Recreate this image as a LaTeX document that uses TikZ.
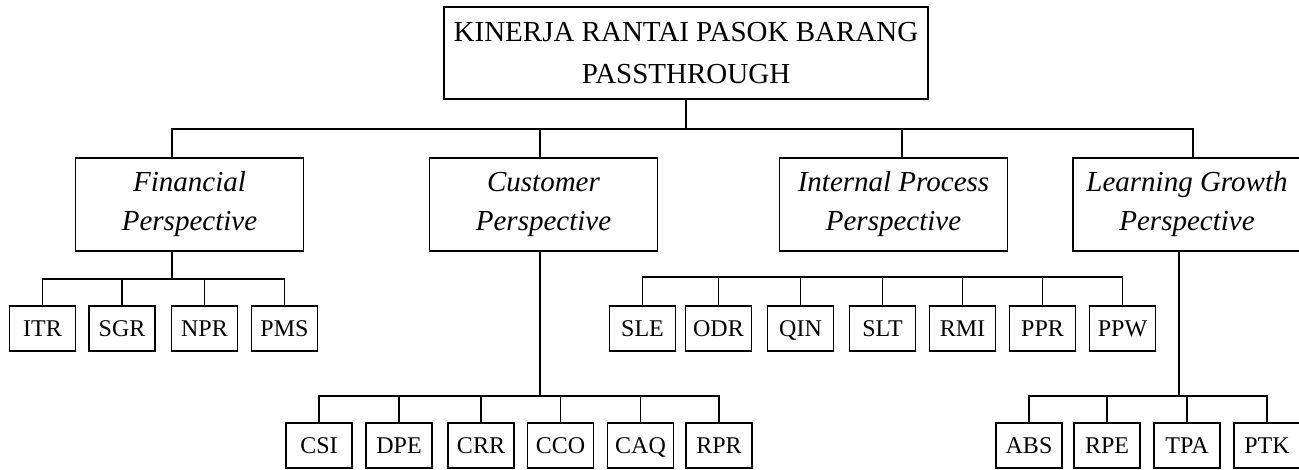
\documentclass[tikz,border=0pt]{standalone}
\usepackage{fontspec}
\setmainfont{Liberation Serif}
\usetikzlibrary{calc}
\begin{document}
\begin{tikzpicture}[x=1pt,y=-1pt, line width=1.9pt,
  box/.style={draw, inner sep=0pt, align=center},
  topbox/.style={box, minimum width=484pt, minimum height=92pt, font=\fontsize{29}{42}\selectfont},
  persp/.style={box, minimum width=228pt, minimum height=93pt, font=\fontsize{29}{39}\selectfont\itshape},
  leaf/.style={box, minimum width=66pt, minimum height=45pt, font=\fontsize{24}{27}\selectfont, text height=15.5pt, text depth=0pt}]
\useasboundingbox (0,0) rectangle (1299,470);

% root
\node[topbox] (top) at (686,53) {KINERJA RANTAI PASOK BARANG\\PASSTHROUGH};

% perspectives
\node[persp] (fin) at (189.5,204.5) {Financial\\Perspective};
\node[persp] (cus) at (543.5,204.5) {Customer\\Perspective};
\node[persp] (int) at (893.5,204.5) {Internal Process\\Perspective};
\node[persp] (lrn) at (1187,204.5) {Learning Growth\\Perspective};

% financial leaves
\node[leaf] (itr) at (42.5,328.5) {ITR};
\node[leaf] (sgr) at (122,328.5) {SGR};
\node[leaf] (npr) at (204.5,328.5) {NPR};
\node[leaf] (pms) at (284.5,328.5) {PMS};

% internal leaves
\node[leaf] (sle) at (642.5,328.5) {SLE};
\node[leaf] (odr) at (718.5,328.5) {ODR};
\node[leaf] (qin) at (800.5,328.5) {QIN};
\node[leaf] (slt) at (882.5,328.5) {SLT};
\node[leaf] (rmi) at (962.5,328.5) {RMI};
\node[leaf] (ppr) at (1042.5,328.5) {PPR};
\node[leaf] (ppw) at (1122.5,328.5) {PPW};

% customer leaves
\node[leaf] (csi) at (319,445.5) {CSI};
\node[leaf] (dpe) at (399,445.5) {DPE};
\node[leaf] (crr) at (481,445.5) {CRR};
\node[leaf] (cco) at (560.5,445.5) {CCO};
\node[leaf] (caq) at (640.5,445.5) {CAQ};
\node[leaf] (rpr) at (719,445.5) {RPR};

% learning leaves
\node[leaf] (abs) at (1029,445.5) {ABS};
\node[leaf] (rpe) at (1107,445.5) {RPE};
\node[leaf] (tpa) at (1187,445.5) {TPA};
\node[leaf] (ptk) at (1267,445.5) {PTK};

% level 1 connectors
\coordinate (tj) at ($(top.south)+(0,29)$);
\draw (top.south) -- (tj);
\draw ($(fin.north)+(-17.5,0)$) |- (tj) -| ($(lrn.north)+(6,0)$);
\draw ($(cus.north)+(-3.5,0)$) |- (tj);
\draw ($(int.north)+(8.5,0)$) |- (tj);

% financial connectors
\coordinate (fj) at ($(fin.south)+(-17.5,27)$);
\draw ($(fin.south)+(-17.5,0)$) -- (fj);
\foreach \n in {itr,sgr,npr,pms} \draw (\n.north) |- (fj);

% internal connectors (bar only)
\coordinate (ij1) at ($(sle.north)+(0,-28)$);
\coordinate (ij2) at ($(ppw.north)+(0,-28)$);
\draw (sle.north) -- (ij1) -- (ij2) -- (ppw.north);
\foreach \n in {odr,qin,slt,rmi,ppr} \draw (\n.north) -- ++(0,-28);

% customer connectors
\coordinate (cj) at ($(cus.south)+(-3.5,144)$);
\draw ($(cus.south)+(-3.5,0)$) -- (cj);
\foreach \n in {csi,dpe,crr,cco,caq,rpr} \draw (\n.north) |- (cj);

% learning connectors
\coordinate (lj) at ($(lrn.south)+(-8,144)$);
\draw ($(lrn.south)+(-8,0)$) -- (lj);
\foreach \n in {abs,rpe,tpa,ptk} \draw (\n.north) |- (lj);
\end{tikzpicture}
\end{document}
